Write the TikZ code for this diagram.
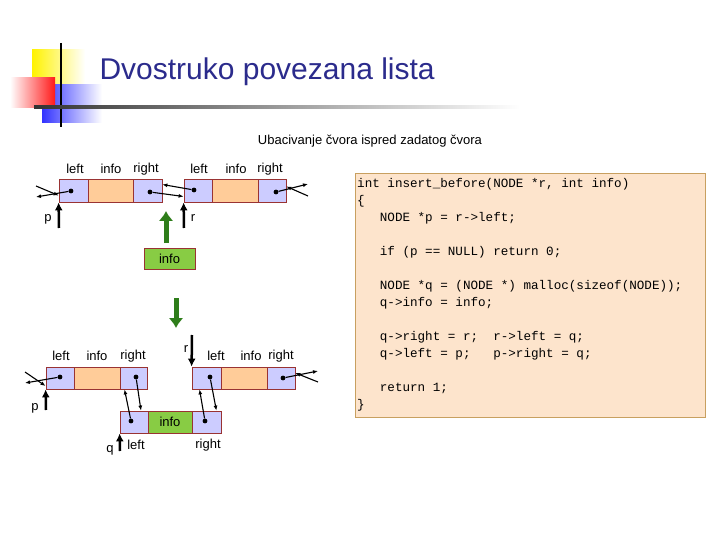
\documentclass[tikz,border=0pt]{standalone}
\usepackage{fontspec}
\setmainfont{Liberation Sans}
\setmonofont{Liberation Mono}
\usetikzlibrary{arrows.meta}
\definecolor{bord}{HTML}{993333}
\definecolor{lav}{HTML}{CCCCFF}
\definecolor{peach}{HTML}{FFCC99}
\definecolor{grn}{HTML}{88CC44}
\definecolor{darkg}{HTML}{2E7D1A}
\definecolor{codebg}{HTML}{FDE4CC}
\definecolor{codebd}{HTML}{C8A060}
\definecolor{titlec}{HTML}{2B2B8C}
\begin{document}
\begin{tikzpicture}[x=1pt,y=-1pt,
  cell/.style={draw=bord,fill=lav,line width=0.8pt},
  infocell/.style={draw=bord,fill=peach,line width=0.8pt},
  lbl/.style={font=\fontsize{13}{13}\selectfont},
  ptr/.style={-{Latex[length=5pt,width=4pt]},line width=1.1pt},
  bigarrow/.style={-{Latex[length=10pt,width=15pt]},line width=5pt},
  blk/.style={-{Latex[length=8pt,width=8pt]},line width=2.5pt},
  dot/.style={circle,fill=black,inner sep=1.7pt}]
\useasboundingbox (0,0) rectangle (720,540);
% decoration
\shade[left color=yellow!90!orange,right color=white] (32,50) rectangle (85,88);
\shade[left color=blue!80,right color=white] (42,85) rectangle (102,123);
\shade[left color=white,right color=red!90] (10,78) rectangle (55,108);
\draw[line width=2pt] (61,43) -- (61,127);
\shade[left color=black!80,right color=white] (34,106) rectangle (520,108.5);
\node[anchor=west,text=titlec,font=\fontsize{30}{30}\selectfont] (title) at (96,72) {Dvostruko povezana lista};
\node[lbl] (sub) at (370,141) {Ubacivanje čvora ispred zadatog čvora};
% top row
\node[cell,minimum width=29pt,minimum height=23pt,inner sep=0] (a1) at (73.5,190.5) {};
\node[infocell,minimum width=45pt,minimum height=23pt] (a2) at (110.5,190.5) {};
\node[cell,minimum width=29pt,minimum height=23pt] (a3) at (147.5,190.5) {};
\node[cell,minimum width=28pt,minimum height=23pt] (b1) at (198,190.5) {};
\node[infocell,minimum width=46pt,minimum height=23pt] (b2) at (235,190.5) {};
\node[cell,minimum width=28pt,minimum height=23pt] (b3) at (272,190.5) {};
\node[lbl] (l1) at (75,169) {left};
\node[lbl] (l2) at (111,169) {info};
\node[lbl] (l3) at (146,169) {right};
\node[lbl] (l4) at (199,169) {left};
\node[lbl] (l5) at (236,169) {info};
\node[lbl] (l6) at (270,169) {right};
\node[dot] (d1) at (71,191) {};
\node[dot] (d3) at (150,192) {};
\node[dot] (d4) at (194,190) {};
\node[dot] (d6) at (276,192) {};
\coordinate (e1) at (36,186); \coordinate (e2) at (36,197);
\coordinate (e3) at (308,184); \coordinate (e4) at (308,196);
\draw[ptr] (e1) -- ([yshift=-5pt]a1.west);
\draw[ptr] (d1) -- (e2);
\draw[ptr] (d3) -- ([yshift=-6pt]b1.west);
\draw[ptr] (d4) -- ([yshift=6pt]a3.east);
\draw[ptr] (d6) -- (e3);
\draw[ptr] (e4) -- ([yshift=4pt]b3.east);
\coordinate (pt) at (59,228); \coordinate (rt) at (184,228);
\draw[blk] (pt) -- (a1.south west);
\draw[blk] (rt) -- (b1.south west);
\node[lbl] (p1) at (48,219) {p};
\node[lbl] (r1) at (193,218) {r};
\node[draw=bord,fill=grn,line width=0.8pt,minimum width=51pt,minimum height=21pt,lbl] (ni) at (169.5,258.5) {info};
\coordinate (gt) at (166,243);
\coordinate (gtt) at (166,211);
\draw[bigarrow,darkg] (gt) -- (gtt);
% arrow down
\coordinate (gd) at (176,298);
\coordinate (gdd) at (176,328);
\draw[bigarrow,darkg] (gd) -- (gdd);
% bottom rows
\node[cell,minimum width=28pt,minimum height=22pt] (A1) at (60,378) {};
\node[infocell,minimum width=46pt,minimum height=22pt] (A2) at (97,378) {};
\node[cell,minimum width=27pt,minimum height=22pt] (A3) at (133.5,378) {};
\node[cell,minimum width=29pt,minimum height=22pt] (B1) at (206.5,378) {};
\node[infocell,minimum width=46pt,minimum height=22pt] (B2) at (244,378) {};
\node[cell,minimum width=28pt,minimum height=22pt] (B3) at (281,378) {};
\node[cell,minimum width=28pt,minimum height=22pt] (Q1) at (134,422) {};
\node[draw=bord,fill=grn,line width=0.8pt,minimum width=44pt,minimum height=22pt,lbl] (Q2) at (170,422) {info};
\node[cell,minimum width=29pt,minimum height=22pt] (Q3) at (206.5,422) {};
\node[lbl] (m1) at (61,356) {left};
\node[lbl] (m2) at (97,356) {info};
\node[lbl] (m3) at (133,356) {right};
\node[lbl] (m4) at (216,356) {left};
\node[lbl] (m5) at (251,356) {info};
\node[lbl] (m6) at (281,356) {right};
\node[lbl] (m7) at (136,445) {left};
\node[lbl] (m8) at (208,445) {right};
\node[lbl] (q) at (110,450) {q};
\node[lbl] (p2) at (35,408) {p};
\node[lbl] (r2) at (186,349) {r};
\node[dot] (D1) at (60,377) {};
\node[dot] (D3) at (136,377) {};
\node[dot] (D4) at (210,377) {};
\node[dot] (D6) at (283,378) {};
\node[dot] (DQ1) at (131,421) {};
\node[dot] (DQ3) at (205,421) {};
\coordinate (f1) at (25,372); \coordinate (f2) at (25,383);
\coordinate (f3) at (318,371); \coordinate (f4) at (318,382);
\draw[ptr] (f1) -- ([yshift=-8pt]A1.west);
\draw[ptr] (D1) -- (f2);
\draw[ptr] (D6) -- (f3);
\draw[ptr] (f4) -- ([yshift=5pt]B3.east);
\draw[ptr] (D3) -- ([xshift=7pt]Q1.north);
\draw[ptr] (DQ1) -- ([xshift=-9pt]A3.south);
\draw[ptr] (D4) -- ([xshift=-5pt]Q3.north east);
\draw[ptr] (DQ3) -- ([xshift=-7pt]B1.south);
\coordinate (pb) at (46,410); \coordinate (qb) at (120,451); \coordinate (rb) at (192,335);
\draw[blk] (pb) -- (A1.south west);
\draw[blk] (qb) -- (Q1.south west);
\draw[blk] (rb) -- (B1.north west);
% code
\node[draw=codebd,fill=codebg,line width=0.8pt,minimum width=350pt,minimum height=244pt] (code) at (530,295) {};
\node[anchor=north west,align=left,font=\ttfamily\fontsize{12.6}{17}\selectfont,inner sep=0] (txt) at (357,178) {%
int insert\_before(NODE *r, int info)\\
\{\\
\ \ \ NODE *p = r->left;\\[17pt]
\ \ \ if (p == NULL) return 0;\\[17pt]
\ \ \ NODE *q = (NODE *) malloc(sizeof(NODE));\\
\ \ \ q->info = info;\\[17pt]
\ \ \ q->right = r;\ \ r->left = q;\\
\ \ \ q->left = p;\ \ \ p->right = q;\\[17pt]
\ \ \ return 1;\\
\}};
\end{tikzpicture}
\end{document}
